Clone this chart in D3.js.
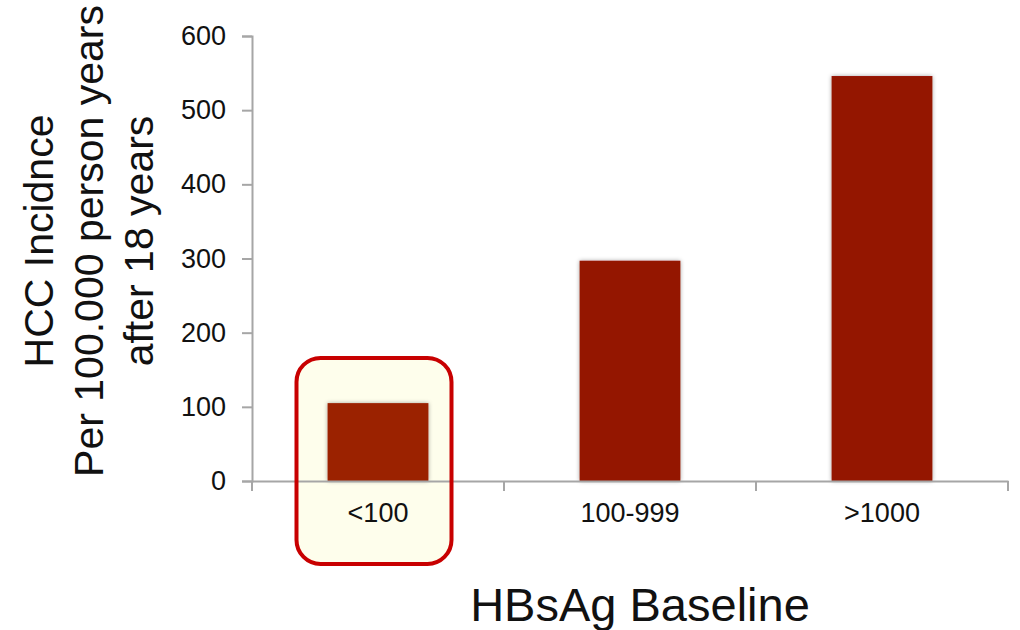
<!DOCTYPE html>
<html>
<head>
<meta charset="utf-8">
<script src="https://cdn.jsdelivr.net/npm/d3@7"></script>
<style>
  body { margin: 0; background: #fff; }
  text { font-family: "Liberation Sans", Arial, sans-serif; fill: #111; }
</style>
</head>
<body>
<div id="chart"></div>
<script>
// Data
var categories = ["<100", "100-999", ">1000"];
var incidence = [105, 297, 546];
var yTicks = [0, 100, 200, 300, 400, 500, 600];
var highlighted = "<100";

var w = 1020, h = 630;
var margin = {top: 36, right: 12, bottom: 149, left: 252};
var width = w - margin.left - margin.right;
var height = h - margin.top - margin.bottom;

var data = categories.map(function(c, i) { return {cat: c, value: incidence[i]}; });

var svg = d3.select("#chart")
  .append("svg")
    .attr("width", w)
    .attr("height", h);

var defs = svg.append("defs");
var f = defs.append("filter").attr("id", "shadow")
  .attr("x", "-20%").attr("y", "-20%").attr("width", "140%").attr("height", "140%");
f.append("feDropShadow")
  .attr("dx", 0).attr("dy", 0).attr("stdDeviation", 2)
  .attr("flood-color", "#000").attr("flood-opacity", 0.35);

var g = svg.append("g")
  .attr("transform", "translate(" + margin.left + "," + margin.top + ")");

// X scale
var x = d3.scaleBand()
  .range([0, width])
  .domain(categories)
  .paddingInner(0.6)
  .paddingOuter(0.3);

// Y scale
var y = d3.scaleLinear()
  .domain([0, 600])
  .range([height, 0]);

// Highlight box behind the first bar (sits a little left of the bar centre)
var boxW = 155;
var hx = x(highlighted) + x.bandwidth() / 2 - 4;
g.append("rect")
  .attr("x", hx - boxW / 2)
  .attr("y", y(166))
  .attr("width", boxW)
  .attr("height", 206)
  .attr("rx", 24)
  .attr("fill", "#fefeec")
  .attr("stroke", "none");

// Bars
g.selectAll("mybar")
  .data(data)
  .enter()
  .append("rect")
    .attr("x", function(d) { return x(d.cat); })
    .attr("y", function(d) { return y(d.value); })
    .attr("width", x.bandwidth())
    .attr("height", function(d) { return height - y(d.value); })
    .attr("fill", function(d) { return d.cat === highlighted ? "#9b2000" : "#941200"; })
    .attr("filter", "url(#shadow)");

// Y axis
var yAxis = g.append("g")
  .call(d3.axisLeft(y).tickValues(yTicks).tickSize(10).tickPadding(16));
yAxis.select(".domain").attr("stroke", "#a6a6a6").attr("stroke-width", 2);
yAxis.selectAll(".tick line").attr("stroke", "#a6a6a6").attr("stroke-width", 2);
yAxis.selectAll(".tick text").attr("font-size", "27px").attr("fill", "#111")
  .attr("font-family", "Liberation Sans, Arial, sans-serif");

// X axis: labels centred in bands, ticks on band boundaries
var xAxis = g.append("g")
  .attr("transform", "translate(0," + height + ")")
  .call(d3.axisBottom(x).tickSize(0).tickPadding(22).tickSizeOuter(0));
xAxis.select(".domain").attr("stroke", "#a6a6a6").attr("stroke-width", 2);
xAxis.selectAll(".tick text").attr("font-size", "27px").attr("fill", "#111")
  .attr("font-family", "Liberation Sans, Arial, sans-serif");
var bounds = categories.map(function(c) { return x(c) - x.step() * x.paddingInner() / 2; });
bounds[0] = 0;
bounds.push(width);
xAxis.selectAll(".bound")
  .data(bounds)
  .enter()
  .append("line")
    .attr("x1", function(d) { return d; })
    .attr("x2", function(d) { return d; })
    .attr("y1", 0)
    .attr("y2", 10)
    .attr("stroke", "#a6a6a6")
    .attr("stroke-width", 2);

// Border of highlight box on top
g.append("rect")
  .attr("x", hx - boxW / 2)
  .attr("y", y(166))
  .attr("width", boxW)
  .attr("height", 206)
  .attr("rx", 24)
  .attr("fill", "none")
  .attr("stroke", "#c80000")
  .attr("stroke-width", 4);

// X axis label
svg.append("text")
  .attr("text-anchor", "middle")
  .attr("x", 640)
  .attr("y", 621)
  .attr("font-size", "47px")
  .text("HBsAg Baseline");

// Y axis label
var yLabel = ["HCC Incidnce", "Per 100.000 person years", "after 18 years"];
var yl = svg.append("text")
  .attr("text-anchor", "middle")
  .attr("transform", "translate(0,241) rotate(-90)")
  .attr("font-size", "41px");
yl.selectAll("tspan")
  .data(yLabel)
  .enter()
  .append("tspan")
    .attr("x", 0)
    .attr("y", function(d, i) { return 53 + i * 50; })
    .text(function(d) { return d; });
</script>
</body>
</html>
